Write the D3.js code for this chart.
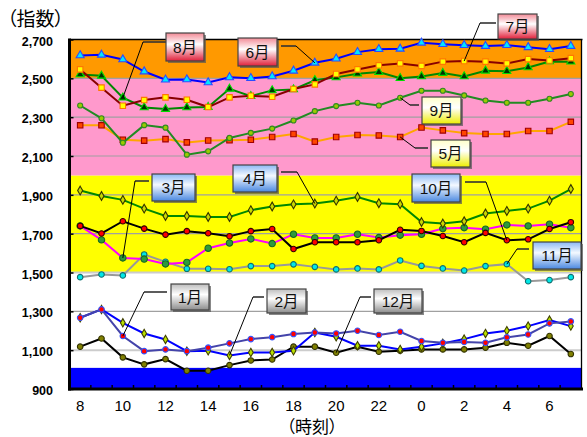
<!DOCTYPE html>
<html>
<head>
<meta charset="utf-8">
<script src="https://cdn.jsdelivr.net/npm/d3@7"></script>
<style>
	body { margin: 0; background: #fff; }
	text { font-family: "Liberation Sans", "Noto Sans CJK JP", sans-serif; }
</style>
</head>
<body>
<div id="chart"></div>
<script>
// Data
var hours = [8, 9, 10, 11, 12, 13, 14, 15, 16, 17, 18, 19, 20, 21, 22, 23, 0, 1, 2, 3, 4, 5, 6, 7];
var xTickHours = [8, 10, 12, 14, 16, 18, 20, 22, 0, 2, 4, 6];
var yTicks = [900, 1100, 1300, 1500, 1700, 1900, 2100, 2300, 2500, 2700];

var jan = [1267, 1310, 1173, 1095, 1104, 1095, 1113, 1135, 1157, 1167, 1183, 1191, 1186, 1200, 1178, 1195, 1147, 1138, 1142, 1138, 1166, 1181, 1238, 1248];
var feb = [1267, 1310, 1241, 1186, 1155, 1095, 1097, 1073, 1088, 1088, 1097, 1191, 1169, 1123, 1123, 1104, 1118, 1135, 1157, 1186, 1200, 1224, 1255, 1224];
var mar = [1740, 1668, 1575, 1569, 1544, 1552, 1625, 1652, 1673, 1649, 1697, 1678, 1678, 1697, 1680, 1692, 1697, 1726, 1731, 1723, 1745, 1740, 1749, 1731];
var apr = [1922, 1894, 1874, 1829, 1791, 1791, 1786, 1786, 1821, 1840, 1851, 1855, 1870, 1889, 1857, 1852, 1760, 1752, 1764, 1804, 1817, 1829, 1870, 1930];
var may = [2258, 2258, 2184, 2179, 2187, 2170, 2180, 2181, 2184, 2198, 2213, 2174, 2198, 2208, 2206, 2198, 2247, 2232, 2218, 2213, 2213, 2229, 2229, 2276];
var jun = [2618, 2621, 2597, 2535, 2493, 2494, 2479, 2505, 2501, 2510, 2539, 2580, 2601, 2635, 2650, 2652, 2683, 2676, 2671, 2666, 2671, 2660, 2650, 2666];
var jul = [2546, 2452, 2359, 2388, 2402, 2390, 2352, 2402, 2410, 2405, 2445, 2469, 2522, 2546, 2567, 2577, 2564, 2586, 2589, 2586, 2577, 2599, 2592, 2604];
var aug = [2520, 2513, 2400, 2350, 2342, 2350, 2352, 2446, 2408, 2438, 2443, 2490, 2505, 2524, 2532, 2501, 2510, 2527, 2510, 2539, 2537, 2556, 2587, 2586];
var sep = [2360, 2294, 2168, 2259, 2246, 2107, 2124, 2193, 2219, 2241, 2283, 2331, 2357, 2374, 2360, 2400, 2436, 2436, 2412, 2386, 2374, 2374, 2395, 2419];
var oct = [1740, 1701, 1764, 1726, 1695, 1713, 1702, 1687, 1713, 1724, 1621, 1656, 1656, 1656, 1666, 1720, 1714, 1688, 1656, 1704, 1666, 1671, 1724, 1759];
var nov = [1476, 1490, 1485, 1593, 1555, 1519, 1519, 1517, 1533, 1533, 1542, 1529, 1516, 1521, 1516, 1562, 1534, 1521, 1510, 1533, 1543, 1455, 1461, 1476];
var dec = [1118, 1160, 1063, 1027, 1054, 994, 994, 1023, 1047, 1052, 1118, 1118, 1087, 1118, 1092, 1097, 1104, 1104, 1104, 1113, 1138, 1123, 1173, 1080];

// background bands (value ranges)
var bandFrom = [900, 1010, 1500, 2000, 2500];
var bandTo = [1010, 1500, 2000, 2500, 2700];
var bandColors = ["#0000ff", "#ffffff", "#ffff00", "#ff99cc", "#ff9900"];

// series, drawn bottom to top
var series = [
	{ name: "12月", values: dec },
	{ name: "2月", values: feb },
	{ name: "1月", values: jan },
	{ name: "11月", values: nov },
	{ name: "3月", values: mar },
	{ name: "10月", values: oct },
	{ name: "4月", values: apr },
	{ name: "5月", values: may },
	{ name: "9月", values: sep },
	{ name: "8月", values: aug },
	{ name: "7月", values: jul },
	{ name: "6月", values: jun },
];

// line / marker styles
var styles = {
	"1月": { line: "#4444aa", sym: d3.symbolCircle, size: 24, fill: "#ff0000", stroke: "#3355ff" },
	"2月": { line: "#0000ff", sym: d3.symbolDiamond, size: 20, fill: "#b8e000", stroke: "#404000" },
	"3月": { line: "#ff00ff", sym: d3.symbolCircle, size: 32, fill: "#2e9a3c", stroke: "#1a6a20" },
	"4月": { line: "#008800", sym: d3.symbolDiamond, size: 22, fill: "#c8d800", stroke: "#333300" },
	"5月": { line: "#ffa500", sym: d3.symbolSquare, size: 30, fill: "#ff4400", stroke: "#a00000" },
	"6月": { line: "#0000ff", sym: d3.symbolTriangle, size: 28, fill: "#00e8ff", stroke: "#2a4cff" },
	"7月": { line: "#880000", sym: d3.symbolSquare, size: 30, fill: "#ffff00", stroke: "#ff7700" },
	"8月": { line: "#008800", sym: d3.symbolTriangle, size: 28, fill: "#003300", stroke: "#00dd00" },
	"9月": { line: "#228b22", sym: d3.symbolCircle, size: 20, fill: "#99cc00", stroke: "#338822" },
	"10月": { line: "#000000", sym: d3.symbolCircle, size: 24, fill: "#ff0000", stroke: "#330000" },
	"11月": { line: "#999999", sym: d3.symbolCircle, size: 24, fill: "#00e8e8", stroke: "#107070" },
	"12月": { line: "#000000", sym: d3.symbolCircle, size: 24, fill: "#808000", stroke: "#333300" },
};

// callout boxes: box [x, y, w, h], leader elbow [xBox, xCorner, y], index of pointed hour
var callouts = [
	{ name: "8月", box: [166, 33, 38, 28], elbow: [166, 143, 42], idx: 2, grad: "red" },
	{ name: "6月", box: [238, 38, 39, 28], elbow: [281, 296, 46], idx: 11, grad: "red" },
	{ name: "7月", box: [498, 14, 39, 25], elbow: [496, 480, 23], idx: 18, grad: "red" },
	{ name: "9月", box: [422, 97, 39, 27], elbow: [419, 410, 105], idx: 15, grad: "yellow" },
	{ name: "5月", box: [431, 140, 39, 27], elbow: [428, 415, 148], idx: 15, grad: "yellow" },
	{ name: "3月", box: [152, 174, 43, 27], elbow: [149, 135, 181], idx: 2, grad: "blue" },
	{ name: "4月", box: [233, 165, 44, 27], elbow: [281, 297, 172], idx: 11, grad: "blue" },
	{ name: "10月", box: [412, 174, 48, 28], elbow: [465, 486, 182], idx: 20, grad: "blue" },
	{ name: "11月", box: [533, 242, 48, 27], elbow: [529, 517, 249], idx: 20, grad: "blue" },
	{ name: "1月", box: [171, 284, 38, 26], elbow: [167, 144, 292], idx: 2, grad: "gray" },
	{ name: "2月", box: [267, 289, 39, 24], elbow: [264, 253, 297], idx: 7, grad: "gray" },
	{ name: "12月", box: [374, 289, 48, 24], elbow: [371, 360, 297], idx: 12, grad: "gray" },
];

var width = 587,
	height = 437;
var plotLeft = 69.5,
	plotRight = 581.5,
	plotTop = 39.5,
	plotBottom = 389;

var svg = d3
	.select("#chart")
	.append("svg")
	.attr("width", width)
	.attr("height", height);

// Scales
const x = d3.scaleBand().domain(hours).range([plotLeft, plotRight]);
const cx = (h) => x(h) + x.bandwidth() / 2;
const y = d3.scaleLinear().domain([900, 2700]).range([plotBottom, plotTop]);

// Gradients for callout boxes
var grads = {
	red: ["#f28a96", "#ffffff", "#e0203a"],
	yellow: ["#ffffc8", "#ffffff", "#eeee00"],
	blue: ["#8cb8f4", "#f4f9ff", "#4a88e0"],
	gray: ["#bdbdbd", "#ffffff", "#8c8c8c"],
};
const defs = svg.append("defs");
Object.keys(grads).forEach(function (k) {
	var g = defs
		.append("linearGradient")
		.attr("id", "g-" + k)
		.attr("x1", "0%").attr("y1", "0%")
		.attr("x2", "0%").attr("y2", "100%");
	g.append("stop").attr("offset", "0%").attr("stop-color", grads[k][0]);
	g.append("stop").attr("offset", "40%").attr("stop-color", grads[k][1]);
	g.append("stop").attr("offset", "100%").attr("stop-color", grads[k][2]);
});

// Background bands
svg
	.append("g")
	.selectAll("rect")
	.data(bandFrom)
	.join("rect")
	.attr("x", plotLeft)
	.attr("width", plotRight - plotLeft)
	.attr("y", (d, i) => y(bandTo[i]))
	.attr("height", (d, i) => y(d) - y(bandTo[i]))
	.attr("fill", (d, i) => bandColors[i]);

// Gridlines
svg
	.append("g")
	.selectAll("line")
	.data(yTicks.filter((d) => d > 900 && d < 2700))
	.join("line")
	.attr("x1", plotLeft)
	.attr("x2", plotRight)
	.attr("y1", (d) => y(d))
	.attr("y2", (d) => y(d))
	.attr("stroke", (d) => (d == 1100 || d == 1500 ? "#cccccc" : "#a0a0a0"))
	.attr("stroke-width", (d) => (d == 1100 || d == 1500 ? 2 : 1.2));

// y-axis
svg
	.append("g")
	.attr("transform", `translate(${plotLeft},0)`)
	.call(d3.axisLeft(y).tickValues(yTicks).tickSize(-4).tickPadding(16.5).tickFormat(d3.format(",")))
	.call((g) => g.select(".domain").remove())
	.call((g) => g.selectAll(".tick line").attr("stroke", "#000").attr("stroke-width", 1.5))
	.call((g) =>
		g.selectAll("text")
			.attr("fill", "#000")
			.attr("dy", "0.45em")
			.style("font-size", "12.5px")
			.style("font-weight", "bold")
	);

// x-axis labels
svg
	.append("g")
	.attr("transform", `translate(0,${plotBottom})`)
	.call(d3.axisBottom(x).tickValues(xTickHours).tickSize(0).tickPadding(11))
	.call((g) => g.select(".domain").remove())
	.call((g) => g.selectAll("text").attr("fill", "#000").style("font-size", "15px"));

// x tick marks on band edges
svg
	.append("g")
	.selectAll("line")
	.data(hours.slice(1))
	.join("line")
	.attr("x1", (d) => x(d))
	.attr("x2", (d) => x(d))
	.attr("y1", plotBottom)
	.attr("y2", plotBottom - 4)
	.attr("stroke", "#000")
	.attr("stroke-width", 1.5);

// Frame
svg.append("line").attr("x1", plotLeft).attr("x2", plotRight + 1).attr("y1", plotTop).attr("y2", plotTop).attr("stroke", "#000").attr("stroke-width", 1.5);
svg.append("line").attr("x1", plotRight).attr("x2", plotRight).attr("y1", plotTop).attr("y2", plotBottom).attr("stroke", "#000").attr("stroke-width", 1.3);
svg.append("line").attr("x1", plotLeft - 1.5).attr("x2", plotRight + 1.5).attr("y1", plotBottom).attr("y2", plotBottom).attr("stroke", "#000").attr("stroke-width", 3);
svg.append("line").attr("x1", plotLeft).attr("x2", plotLeft).attr("y1", plotTop - 1).attr("y2", plotBottom + 1.5).attr("stroke", "#000").attr("stroke-width", 3);

// Lines and markers
const line = d3
	.line()
	.x((d, i) => cx(hours[i]))
	.y((d) => y(d));

const group = svg.append("g").selectAll("g").data(series).join("g");

group
	.append("path")
	.attr("fill", "none")
	.attr("stroke", (d) => styles[d.name].line)
	.attr("stroke-width", 2)
	.attr("d", (d) => line(d.values));

group
	.selectAll(".mark")
	.data((d) => d.values.map((v, i) => ({ v: v, i: i, s: styles[d.name] })))
	.join("path")
	.attr("class", "mark")
	.attr("transform", (d) => `translate(${cx(hours[d.i])},${y(d.v)})`)
	.attr("d", (d) => d3.symbol(d.s.sym, d.s.size)())
	.attr("fill", (d) => d.s.fill)
	.attr("stroke", (d) => d.s.stroke)
	.attr("stroke-width", 1.1);

// Callouts
var byName = {};
series.forEach((s) => (byName[s.name] = s.values));

const call = svg.append("g").selectAll("g").data(callouts).join("g");

call
	.append("line")
	.attr("x1", (d) => d.elbow[0])
	.attr("x2", (d) => d.elbow[1])
	.attr("y1", (d) => d.elbow[2])
	.attr("y2", (d) => d.elbow[2])
	.attr("stroke", "#333")
	.attr("stroke-width", 1.6);

call
	.append("line")
	.attr("x1", (d) => d.elbow[1])
	.attr("y1", (d) => d.elbow[2])
	.attr("x2", (d) => cx(hours[d.idx]))
	.attr("y2", (d) => y(byName[d.name][d.idx]))
	.attr("stroke", "#000")
	.attr("stroke-width", 1);

call
	.append("rect")
	.attr("x", (d) => d.box[0] + 2)
	.attr("y", (d) => d.box[1] + 2)
	.attr("width", (d) => d.box[2])
	.attr("height", (d) => d.box[3])
	.attr("fill", "#555")
	.attr("fill-opacity", 0.7);

call
	.append("rect")
	.attr("x", (d) => d.box[0])
	.attr("y", (d) => d.box[1])
	.attr("width", (d) => d.box[2])
	.attr("height", (d) => d.box[3])
	.attr("fill", (d) => "url(#g-" + d.grad + ")")
	.attr("stroke", "#444")
	.attr("stroke-width", 1.2);

call
	.append("text")
	.attr("x", (d) => d.box[0] + d.box[2] / 2)
	.attr("y", (d) => d.box[1] + d.box[3] / 2)
	.attr("dy", "0.36em")
	.attr("text-anchor", "middle")
	.style("font-size", "15.5px")
	.attr("fill", "#111")
	.text((d) => d.name);

// Titles
svg
	.append("text")
	.attr("x", 7)
	.attr("y", 26)
	.style("font-family", '"Noto Sans CJK JP", sans-serif')
	.style("font-size", "19px")
	.style("font-feature-settings", '"palt"')
	.text("（指数）");

svg
	.append("text")
	.attr("x", 312)
	.attr("y", 433)
	.attr("text-anchor", "middle")
	.style("font-family", '"Noto Sans CJK JP", sans-serif')
	.style("font-size", "17px")
	.style("font-feature-settings", '"palt"')
	.text("（時刻）");
</script>
</body>
</html>
